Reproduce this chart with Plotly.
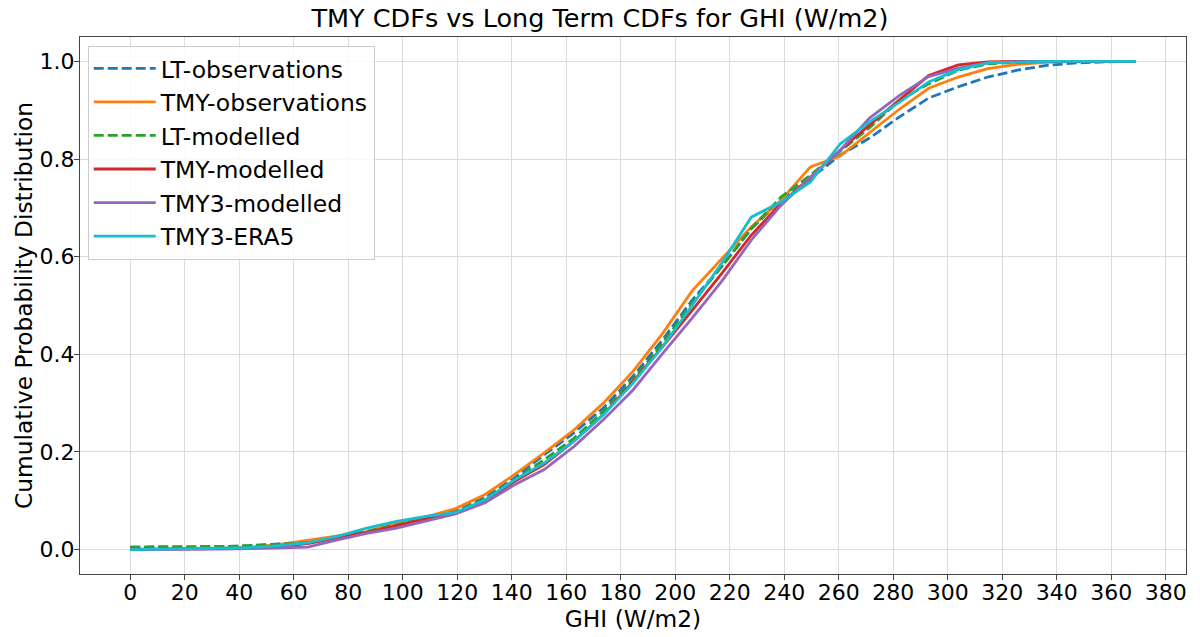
import plotly.graph_objects as go

# GHI bin centres (W/m2)
ghi = [0, 10.85, 21.7, 32.6, 43.4, 54.3, 65.1, 76.0, 86.8, 97.7, 108.5, 119.4,
       130.2, 141.1, 151.9, 162.8, 173.6, 184.5, 195.4, 206.2, 217.1, 227.9,
       238.8, 249.6, 260.5, 271.3, 282.2, 293.0, 303.9, 314.7, 325.6, 336.4,
       347.3, 358.1, 369.0]

lt_obs = [0.005, 0.005, 0.006, 0.006, 0.008, 0.011, 0.015, 0.024, 0.036, 0.052, 0.067, 0.080,
          0.107, 0.147, 0.194, 0.239, 0.290, 0.355, 0.430, 0.511, 0.580, 0.657,
          0.715, 0.760, 0.808, 0.843, 0.886, 0.925, 0.948, 0.968, 0.982, 0.992,
          0.997, 0.999, 1.0]
tmy_obs = [0.001, 0.001, 0.002, 0.003, 0.005, 0.010, 0.019, 0.027, 0.037, 0.055, 0.067, 0.084,
           0.113, 0.154, 0.198, 0.245, 0.300, 0.365, 0.443, 0.530, 0.595, 0.661,
           0.715, 0.784, 0.806, 0.853, 0.902, 0.945, 0.968, 0.985, 0.994, 0.998,
           1.0, 1.0, 1.0]
lt_mod = [0.005, 0.005, 0.006, 0.006, 0.008, 0.011, 0.014, 0.024, 0.037, 0.050, 0.064, 0.077,
          0.104, 0.143, 0.184, 0.228, 0.283, 0.348, 0.423, 0.505, 0.580, 0.658,
          0.722, 0.767, 0.816, 0.864, 0.920, 0.954, 0.982, 0.995, 0.998, 1.0,
          1.0, 1.0, 1.0]
tmy_mod = [0.0, 0.001, 0.001, 0.002, 0.003, 0.006, 0.012, 0.024, 0.035, 0.049, 0.063, 0.075,
           0.099, 0.140, 0.174, 0.222, 0.276, 0.344, 0.416, 0.490, 0.566, 0.644,
           0.709, 0.762, 0.818, 0.870, 0.920, 0.971, 0.993, 0.999, 1.0, 1.0,
           1.0, 1.0, 1.0]
tmy3_mod = [0.0, 0.0, 0.001, 0.001, 0.002, 0.003, 0.005, 0.020, 0.033, 0.044, 0.058, 0.073,
            0.096, 0.133, 0.164, 0.211, 0.266, 0.327, 0.402, 0.474, 0.550, 0.634,
            0.705, 0.763, 0.818, 0.884, 0.930, 0.969, 0.986, 0.997, 0.999, 1.0,
            1.0, 1.0, 1.0]
tmy3_era5 = [0.0, 0.001, 0.001, 0.002, 0.004, 0.008, 0.014, 0.027, 0.044, 0.058, 0.068, 0.076,
             0.102, 0.143, 0.177, 0.222, 0.276, 0.341, 0.416, 0.500, 0.587, 0.681,
             0.712, 0.753, 0.831, 0.876, 0.916, 0.958, 0.983, 0.997, 0.999, 1.0,
             1.0, 1.0, 1.0]

series = [
    ("LT-observations", lt_obs, "#1f77b4", "10px,4px"),
    ("TMY-observations", tmy_obs, "#ff7f0e", "solid"),
    ("LT-modelled", lt_mod, "#2ca02c", "10px,4px"),
    ("TMY-modelled", tmy_mod, "#d62728", "solid"),
    ("TMY3-modelled", tmy3_mod, "#9467bd", "solid"),
    ("TMY3-ERA5", tmy3_era5, "#17becf", "solid"),
]

fig = go.Figure()
for name, vals, col, dash in series:
    fig.add_trace(go.Scatter(x=ghi, y=vals, mode="lines", name=name,
                             line=dict(color=col, width=2.8, dash=dash)))

axis_style = dict(showline=True, mirror=True, linecolor="#444444", linewidth=1,
                  showgrid=True, gridcolor="#dcdcdc", gridwidth=1,
                  ticks="outside", ticklen=5, tickcolor="#444444",
                  tickfont=dict(size=22, color="black"), zeroline=False,
                  automargin=False)

fig.update_layout(
    width=1200, height=637,
    paper_bgcolor="white", plot_bgcolor="white",
    font=dict(family="DejaVu Sans", color="black"),
    margin=dict(l=80, r=14, t=37, b=63),
    title=dict(text="TMY CDFs vs Long Term CDFs for GHI (W/m2)", x=0.5, xanchor="center",
               y=0.972, yanchor="middle", font=dict(size=25.5)),
    xaxis=dict(title=dict(text="GHI (W/m2)", font=dict(size=23.3), standoff=0),
               range=[-18.45, 387.45], tickmode="array", ticklabelstandoff=-6,
               tickvals=list(range(0, 381, 20)), **axis_style),
    yaxis=dict(title=dict(text="Cumulative Probability Distribution", font=dict(size=23.3), standoff=0),
               range=[-0.05, 1.05], tickmode="array", ticklabelstandoff=-5,
               tickvals=[0, 0.2, 0.4, 0.6, 0.8, 1.0], tickformat=".1f", **axis_style),
    legend=dict(x=0.007, y=0.984, xanchor="left", yanchor="top",
                bgcolor="rgba(255,255,255,0.85)", bordercolor="#cccccc", borderwidth=1,
                font=dict(size=23.5), itemwidth=62),
)

# page body has a default 8px margin, drop it so the figure sits at 0,0
fig.write_html("out.html", config={"displayModeBar": False},
               post_script="document.body.style.margin='0';")
